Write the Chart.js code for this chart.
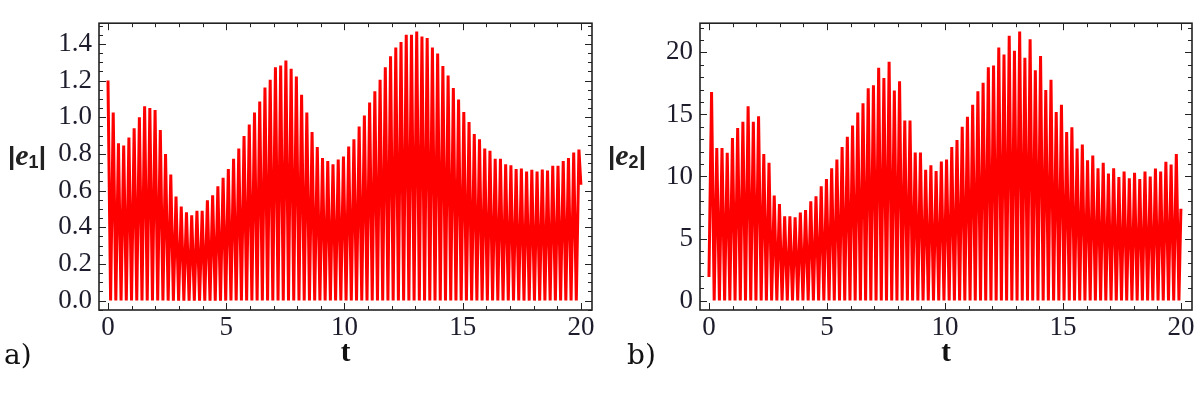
<!DOCTYPE html>
<html>
<head>
<meta charset="utf-8">
<script src="https://cdn.jsdelivr.net/npm/chart.js@4.4.1/dist/chart.umd.min.js"></script>
<style>
  html, body { margin: 0; padding: 0; background: #fff; }
  #wrap { position: relative; width: 1200px; height: 395px; overflow: hidden; }
  .panel { position: absolute; top: 0; width: 600px; height: 395px; }
  .ylab { position: absolute; font-family: "Liberation Sans", Arial, sans-serif; font-weight: bold; font-size: 26px; color: #222; }
  .ylab i { font-family: "Liberation Serif", serif; font-size: 30px; }
  .ylab sub { font-size: 18px; vertical-align: -3px; }
  .tag { position: absolute; font-family: "DejaVu Serif", "Liberation Serif", serif; font-size: 28px; color: #111; }
</style>
</head>
<body>
<div id="wrap">
  <div class="panel" style="left:0"><canvas id="chartA" width="600" height="395"></canvas></div>
  <div class="panel" style="left:600px"><canvas id="chartB" width="600" height="395"></canvas></div>
  <div class="ylab" style="left:8px; top:138px">|<i>e</i><sub>1</sub>|</div>
  <div class="ylab" style="left:608px; top:138px">|<i>e</i><sub>2</sub>|</div>
  <div class="tag" style="left:4px; top:338px">a)</div>
  <div class="tag" style="left:627px; top:338px">b)</div>
</div>
<script>
// peak value of every oscillation (left to right)
const peaksE1 = [
  1.20, 1.026, 0.858, 0.846, 0.889, 0.94, 1.0, 1.06, 1.05, 1.04,
  0.93, 0.80, 0.687, 0.567, 0.513, 0.482, 0.465, 0.49, 0.49, 0.547,
  0.574, 0.624, 0.67, 0.718, 0.773, 0.829, 0.897, 0.96, 1.026, 1.086,
  1.162, 1.205, 1.273, 1.282, 1.31, 1.265, 1.222, 1.123, 1.026, 0.92,
  0.838, 0.778, 0.761, 0.744, 0.769, 0.786, 0.841, 0.88, 0.949, 1.009,
  1.08, 1.142, 1.205, 1.273, 1.333, 1.381, 1.41, 1.45, 1.45, 1.467,
  1.441, 1.432, 1.381, 1.347, 1.279, 1.228, 1.159, 1.097, 1.029, 0.974,
  0.909, 0.88, 0.829, 0.817, 0.773, 0.773, 0.744, 0.738, 0.718, 0.72,
  0.704, 0.713, 0.704, 0.715, 0.71, 0.735, 0.735, 0.761, 0.778, 0.807,
  0.824
];
const peaksE2 = [
  16.8, 12.3, 12.3, 11.9, 13.1, 13.9, 14.4, 15.65, 14.4, 14.85,
  11.8, 11.1, 8.46, 7.78, 6.8, 6.8, 6.7, 7.1, 7.3, 8.0,
  8.4, 9.2, 9.8, 10.66, 11.36, 12.37, 13.2, 14.1, 15.15, 15.9,
  17.1, 17.35, 18.76, 17.93, 19.24, 16.92, 17.68, 14.5, 14.5, 11.92,
  11.92, 10.53, 10.9, 10.43, 11.2, 11.36, 12.37, 12.93, 14.0, 14.82,
  15.78, 16.87, 17.55, 18.79, 18.94, 20.4, 19.82, 21.34, 20.13, 21.67,
  19.57, 21.06, 18.56, 19.7, 16.97, 17.8, 15.2, 15.78, 13.58, 13.96,
  12.25, 12.58, 11.31, 11.69, 10.66, 11.11, 10.23, 10.66, 9.95, 10.4,
  9.85, 10.3, 9.8, 10.4, 10.0, 10.63, 10.4, 11.19, 10.96, 11.8
];
// time of first peak, spacing of peaks, and values at the ends of the trace
const firstPeakE1 = 0.0, firstPeakE2 = 0.11;
const peakSpacing = 0.2213;
const startE2 = 1.9;
const endE1 = 0.632, endE2 = 7.4;
const tEnd = 20;

const xTicks = [0, 5, 10, 15, 20];
const yTicksE1 = [0, 0.2, 0.4, 0.6, 0.8, 1.0, 1.2, 1.4];
const yTicksE2 = [0, 5, 10, 15, 20];

const serif = "'Liberation Serif', 'Times New Roman', Times, serif";

// peak -> zero -> peak ... sampled trace
function buildTrace(peaks, t0, start, end) {
  const pts = [];
  if (start !== null) pts.push({x: 0, y: start});
  peaks.forEach((p, i) => {
    const t = t0 + i * peakSpacing;
    pts.push({x: t, y: p});
    const tz = t + peakSpacing / 2;
    if (tz < tEnd) pts.push({x: tz, y: 0});
  });
  pts.push({x: tEnd, y: end});
  return pts;
}

// Mathematica-like frame with inward ticks on all sides
const frameTicks = {
  id: 'frameTicks',
  afterDatasetsDraw(chart, args, opts) {
    const {ctx, chartArea: a, scales: {x, y}} = chart;
    ctx.save();
    ctx.strokeStyle = '#222';
    ctx.lineWidth = 1;
    ctx.beginPath();
    const nx = Math.round((x.max - x.min) / opts.xMinor) + 2;
    const sx = Math.ceil(x.min / opts.xMinor);
    for (let k = sx; k < sx + nx; k++) {
      const v = k * opts.xMinor;
      if (v < x.min || v > x.max) continue;
      const px = Math.round(x.getPixelForValue(v)) + 0.5;
      const len = xTicks.includes(Math.round(v * 1000) / 1000) ? 7 : 4;
      ctx.moveTo(px, a.bottom); ctx.lineTo(px, a.bottom - len);
      ctx.moveTo(px, a.top); ctx.lineTo(px, a.top + len);
    }
    const ny = Math.round((y.max - y.min) / opts.yMinor) + 2;
    const sy = Math.ceil(y.min / opts.yMinor);
    for (let k = sy; k < sy + ny; k++) {
      const v = k * opts.yMinor;
      if (v < y.min || v > y.max) continue;
      const py = Math.round(y.getPixelForValue(v)) + 0.5;
      const major = opts.yMajor.some(m => Math.abs(m - v) < 1e-6);
      const len = major ? 7 : 4;
      ctx.moveTo(a.left, py); ctx.lineTo(a.left + len, py);
      ctx.moveTo(a.right, py); ctx.lineTo(a.right - len, py);
    }
    ctx.stroke();
    ctx.lineWidth = 1.6;
    ctx.strokeRect(a.left, a.top, a.right - a.left, a.bottom - a.top);
    ctx.restore();
  }
};

function makeChart(id, data, yMin, yMax, yTicks, yFmt, yMinor, leftW) {
  const ctx = document.getElementById(id).getContext('2d');
  return new Chart(ctx, {
    type: 'line',
    data: {
      datasets: [{
        data: data,
        borderColor: '#ff0000',
        borderWidth: 3,
        pointRadius: 0,
        tension: 0,
        fill: false
      }]
    },
    options: {
      responsive: false,
      animation: false,
      events: [],
      layout: { padding: { top: 5, right: 8, left: 0, bottom: 0 } },
      plugins: {
        legend: { display: false },
        tooltip: { enabled: false },
        frameTicks: { xMinor: 1, yMinor: yMinor, yMajor: yTicks }
      },
      scales: {
        x: {
          type: 'linear',
          min: -0.38,
          max: 20.47,
          grid: { display: false, drawTicks: false },
          border: { display: false },
          afterBuildTicks: s => { s.ticks = xTicks.map(v => ({value: v})); },
          afterFit: s => { s.height = 85; },
          ticks: {
            padding: 2,
            color: '#1c1c2c',
            font: { family: serif, size: 27 },
            maxRotation: 0,
            autoSkip: false
          },
          title: {
            display: true,
            text: 't',
            color: '#111',
            font: { family: serif, size: 29, weight: 'bold' },
            padding: { top: 0, bottom: 24 }
          }
        },
        y: {
          min: yMin,
          max: yMax,
          grid: { display: false, drawTicks: false },
          border: { display: false },
          afterBuildTicks: s => { s.ticks = yTicks.map(v => ({value: v})); },
          afterFit: s => { s.width = leftW; },
          ticks: {
            padding: 7,
            color: '#1c1c2c',
            font: { family: serif, size: 27 },
            autoSkip: false,
            callback: yFmt
          }
        }
      }
    },
    plugins: [frameTicks]
  });
}

makeChart('chartA', buildTrace(peaksE1, firstPeakE1, null, endE1),
  -0.0513, 1.513, yTicksE1, v => v.toFixed(1), 0.05, 99);
makeChart('chartB', buildTrace(peaksE2, firstPeakE2, startE2, endE2),
  -0.76, 22.35, yTicksE2, v => String(v), 1, 100);
</script>
</body>
</html>
